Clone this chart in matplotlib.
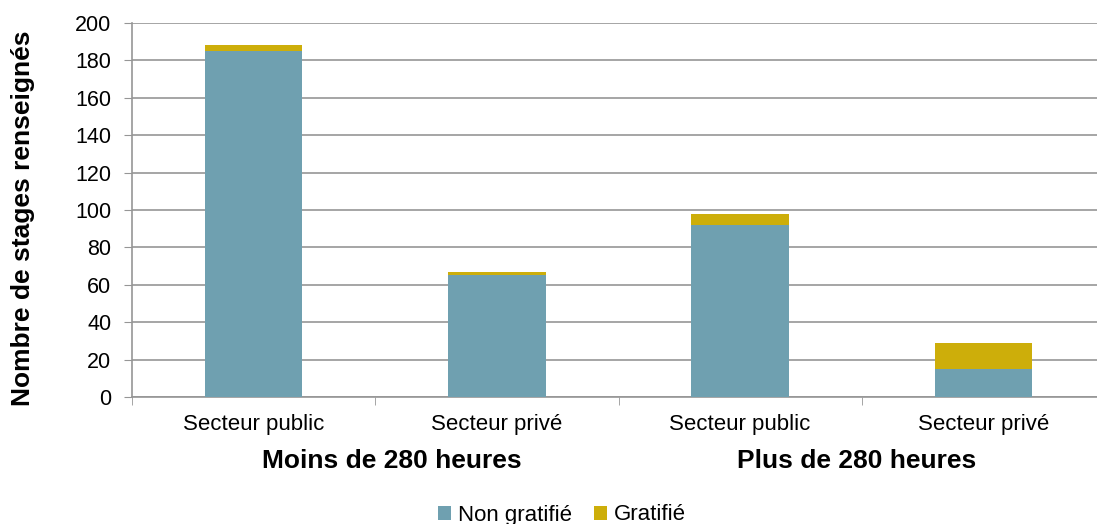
import numpy as np
import matplotlib.pyplot as plt

# Données
categories = ['Secteur public', 'Secteur privé', 'Secteur public', 'Secteur privé']
groups = ['Moins de 280 heures', 'Plus de 280 heures']
group_pos = [0.57, 2.48]
non_gratifie = [185, 65, 92, 15]
gratifie = [3, 2, 6, 14]

plt.rcParams['font.family'] = ['Liberation Sans', 'DejaVu Sans']

fig = plt.figure(figsize=(10.97, 5.24), dpi=100)
ax = fig.add_axes([132 / 1097, 1 - 397 / 524, (1105 - 132) / 1097, (397 - 23) / 524])

x = np.arange(len(categories))
ax.bar(x, non_gratifie, width=0.4, color='#6fa0b0', label='Non gratifié', zorder=3)
ax.bar(x, gratifie, width=0.4, bottom=non_gratifie, color='#cdae0a', label='Gratifié', zorder=3)

ax.set_xlim(-0.5, len(categories) - 0.5)
ax.set_ylim(0, 200)
ax.set_yticks(range(0, 201, 20))
ax.tick_params(axis='y', labelsize=15.5, length=6, color='#969696', pad=9)
ax.yaxis.grid(True, color='#969696', linewidth=1.2, zorder=0)

ax.set_xticks(x)
ax.set_xticklabels(categories, fontsize=16)
ax.tick_params(axis='x', length=0, pad=12)
# petits traits entre les catégories
ax.set_xticks(np.arange(-0.5, len(categories), 1), minor=True)
ax.tick_params(axis='x', which='minor', length=6, color='#969696')

for s in ['top', 'right']:
    ax.spines[s].set_visible(False)
for s in ['left', 'bottom']:
    ax.spines[s].set_color('#969696')
    ax.spines[s].set_linewidth(1.2)

for g, p in zip(groups, group_pos):
    ax.text(p, 1 - (461 - 23) / 374, g, transform=ax.get_xaxis_transform(),
            ha='center', va='center', fontsize=19, fontweight='bold')

fig.text(23 / 1097, 1 - 218 / 524, 'Nombre de stages renseignés', rotation=90,
         ha='center', va='center', fontsize=19, fontweight='bold')

fig.legend(loc='center', bbox_to_anchor=(562 / 1097, 1 - 515 / 524), ncol=2,
           frameon=False, fontsize=16, handlelength=0.6, handleheight=0.6,
           handletextpad=0.3, columnspacing=1.0)

fig.savefig('out.png', dpi=100)
